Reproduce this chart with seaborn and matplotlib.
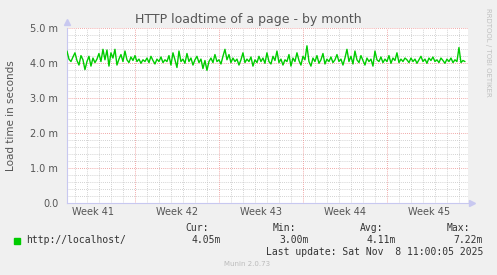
import numpy as np
import pandas as pd
import matplotlib
matplotlib.use("Agg")
import matplotlib.pyplot as plt
import seaborn as sns

# ---- data ----
title = "HTTP loadtime of a page - by month"
ylabel = "Load time in seconds"
series_name = "http://localhost/"
week_labels = ["Week 41", "Week 42", "Week 43", "Week 44", "Week 45"]
week_starts = [0, 7, 14, 21, 28]          # days
sample_start = 1.33                        # days
sample_step = 1.0 / 6.0                    # days between samples
load_ms = [
    4.35, 4.12, 4.05, 4.18, 4.30, 4.08, 3.95, 4.22, 4.10, 3.82,
    4.05, 4.20, 3.92, 4.15, 4.02, 4.12, 4.28, 4.05, 4.40, 4.10,
    4.38, 3.92, 4.30, 4.15, 4.40, 3.95, 4.12, 4.25, 4.05, 4.35,
    4.10, 4.02, 4.18, 4.08, 4.22, 4.05, 4.12, 4.00, 4.10, 4.05,
    4.15, 4.02, 4.20, 4.08, 3.98, 4.12, 4.05, 4.18, 4.02, 4.10,
    4.05, 4.22, 3.95, 4.30, 4.10, 3.88, 4.35, 4.05, 4.12, 4.00,
    4.28, 4.05, 4.15, 3.95, 4.10, 4.20, 4.02, 4.12, 3.85, 4.08,
    3.80, 4.05, 4.15, 4.02, 4.25, 4.05, 4.10, 3.98, 4.20, 4.40,
    4.10, 4.25, 4.02, 4.15, 4.05, 4.12, 3.95, 4.10, 4.30, 4.02,
    4.12, 4.05, 4.18, 3.92, 4.10, 4.02, 4.20, 4.05, 4.15, 4.00,
    4.30, 4.05, 3.98, 4.20, 4.08, 4.35, 4.02, 4.12, 3.95, 4.10,
    4.05, 4.25, 3.92, 4.15, 4.05, 4.30, 4.08, 3.95, 4.20, 4.10,
    4.50, 4.05, 3.92, 4.15, 4.05, 4.22, 4.00, 4.10, 4.28, 3.98,
    4.12, 4.05, 4.18, 4.02, 4.10, 4.25, 4.05, 4.12, 3.95, 4.15,
    4.40, 4.05, 4.20, 3.98, 4.35, 4.10, 4.02, 4.22, 4.08, 3.95,
    4.15, 4.05, 4.12, 3.92, 4.35, 4.10, 4.05, 4.18, 4.02, 4.12,
    4.05, 4.22, 4.00, 4.15, 4.08, 4.30, 4.02, 4.12, 4.05, 4.15,
    4.10, 4.02, 4.15, 4.05, 4.12, 4.00, 4.10, 4.20, 4.05, 4.12,
    4.00, 4.15, 4.08, 4.18, 4.05, 4.10, 4.02, 4.15, 4.08, 4.00,
    4.12, 4.05, 4.15, 4.02, 4.10, 4.05, 4.45, 4.02, 4.08, 4.05,
]
yticks = [0, 1, 2, 3, 4, 5]
ytick_labels = ["0.0", "1.0 m", "2.0 m", "3.0 m", "4.0 m", "5.0 m"]
stats_heads = ["Cur:", "Min:", "Avg:", "Max:"]
stats_vals = ["4.05m", "3.00m", "4.11m", "7.22m"]
last_update = "Last update: Sat Nov  8 11:00:05 2025"

days = sample_start + sample_step * np.arange(len(load_ms))
df = pd.DataFrame({"day": days, "ms": load_ms})

# ---- style ----
sns.set_theme(style="white")
plt.rcParams["font.family"] = ["DejaVu Sans"]
BG = "#F0F0F0"
W, H = 497, 275
fig = plt.figure(figsize=(W / 100, H / 100), dpi=100, facecolor=BG)
L, R, T, B = 66.7, 468, 28.3, 203.3
ax = fig.add_axes([L / W, 1 - B / H, (R - L) / W, (B - T) / H])
ax.set_facecolor("white")

sns.lineplot(data=df, x="day", y="ms", ax=ax, color="#00CC00", linewidth=1.0, zorder=5)

XMIN, XMAX = (L - 51) / 12, (R - 51) / 12

# grids
GRAY = "#C4C4C4"
RED = "#EC8C8C"
DOT = (0, (1, 1.5))
for d in range(1, 35):
    if d % 7 != 0:
        ax.axvline(d, color=GRAY, lw=0.6, ls=DOT, zorder=1)
for ws in week_starts:
    if XMIN <= ws <= XMAX:
        ax.axvline(ws, color=RED, lw=0.6, ls=DOT, zorder=2)
for v in np.arange(0.2, 5.01, 0.2):
    if abs(v - round(v)) > 1e-6:
        ax.axhline(v, color=GRAY, lw=0.6, ls=DOT, zorder=1)
for v in yticks[1:]:
    ax.axhline(v, color=RED, lw=0.6, ls=DOT, zorder=2)

for s in ["top", "right"]:
    ax.spines[s].set_visible(False)
for s in ["left", "bottom"]:
    ax.spines[s].set_color("#C8C8F0")
    ax.spines[s].set_linewidth(0.8)
ax.plot([0], [1.035], marker="^", color="#C8C8F0", markersize=4,
        transform=ax.transAxes, clip_on=False)
ax.plot([1.01], [0], marker=">", color="#C8C8F0", markersize=4,
        transform=ax.transAxes, clip_on=False)

ax.set_yticks(yticks)
ax.set_yticklabels(ytick_labels, color="#555555", fontsize=7)
ax.tick_params(axis="y", length=2, width=0.6, color="#C8C8F0", pad=4)
ax.set_xticks(week_starts)
ax.set_xticklabels([""] * len(week_starts))
ax.tick_params(axis="x", length=2, width=0.6, color=RED)
ax.set_xlabel("")
ax.set_ylabel("")

xt = ax.get_xaxis_transform()
for ws, lab in zip(week_starts, week_labels):
    ax.text(ws + 3.5, -0.05, lab, transform=xt, ha="center", va="center",
            fontsize=7, color="#555555")

ax.set_xlim(XMIN, XMAX)
ax.set_ylim(0, 5)

fig.text(248.5 / W, 1 - 19 / H, title, ha="center", va="center",
         fontsize=9, color="#555555")
fig.text(11 / W, 1 - 116 / H, ylabel, rotation=90, ha="center", va="center",
         fontsize=7.5, color="#555555")
fig.text(488 / W, 1 - 52 / H, "RRDTOOL / TOBI OETIKER", rotation=270,
         ha="center", va="center", fontsize=5, color="#C0C0C0")

mono = "DejaVu Sans Mono"
fig.patches.append(plt.Rectangle((13.5 / W, 1 - 243.5 / H), 6 / W, 6 / H,
                                 transform=fig.transFigure, color="#00CC00"))
fig.text(26 / W, 1 - 240 / H, series_name, ha="left", va="center",
         fontsize=7, family=mono, color="#333333")
head_x = [209, 296, 383, 470]
val_x = [221, 309, 396, 483]
for hx, vx, h, v in zip(head_x, val_x, stats_heads, stats_vals):
    fig.text(hx / W, 1 - 228 / H, h, ha="right", va="center",
             fontsize=7, family=mono, color="#333333")
    fig.text(vx / W, 1 - 240 / H, v, ha="right", va="center",
             fontsize=7, family=mono, color="#333333")
fig.text(483 / W, 1 - 252 / H, last_update, ha="right", va="center",
         fontsize=7, family=mono, color="#333333")
fig.text(247 / W, 1 - 264 / H, "Munin 2.0.73", ha="center", va="center",
         fontsize=5, color="#BBBBBB")

fig.savefig("out.png", dpi=100, facecolor=BG)
